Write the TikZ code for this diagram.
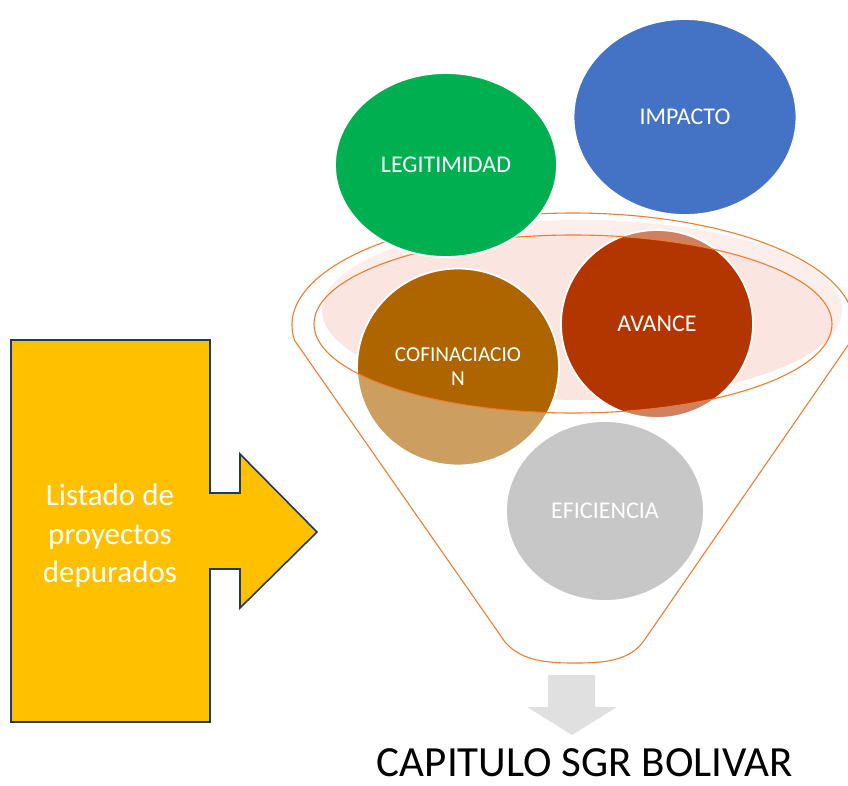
\documentclass[tikz,border=0pt]{standalone}
\usepackage{fontspec}
\setmainfont{Carlito}
\usepackage{tikz}
\usetikzlibrary{shapes.geometric}
\definecolor{FunnelLine}{HTML}{ED7D31}
\definecolor{RimFill}{HTML}{FBE5E0}
\definecolor{LegitGreen}{HTML}{00B050}
\definecolor{ImpactBlue}{HTML}{4472C4}
\definecolor{CofinBrown}{HTML}{AE6500}
\definecolor{AvanceRed}{HTML}{B33500}
\definecolor{EficGray}{HTML}{A6A6A6}
\definecolor{InputGold}{HTML}{FFC000}
\definecolor{InputEdge}{HTML}{1F3864}
\definecolor{OutShade}{HTML}{E0E0E0}
\newcommand{\FunnelOutline}{%
  (294.7,340.6) arc[start angle=172,end angle=368,x radius=281,y radius=112]
  -- (643,642) .. controls (628,662) and (600,663) .. (575,663)
  .. controls (550,663) and (522,662) .. (505,642) -- cycle}
\tikzset{
  figure/.style={x=1pt,y=-1pt},
  bubble/.style={ellipse,draw=white,line width=1.8pt,text=white,inner sep=0pt,
    align=center,font=\fontsize{24}{28}\selectfont},
  funnelline/.style={draw=FunnelLine,line width=1.1pt},
}

\begin{document}
\begin{tikzpicture}[figure]
  \useasboundingbox (0,0) rectangle (848,785);

  % rim of the funnel
  \fill[RimFill] (582,310) ellipse [x radius=260,y radius=90];

  % criteria inside the funnel
  \node[bubble,fill=CofinBrown,minimum width=202pt,minimum height=197pt,
    font=\fontsize{21.3}{24}\selectfont] (cofin) at (458,367) {COFINACIACIO\\N};
  \node[bubble,fill=AvanceRed,minimum width=192pt,minimum height=188pt] (avance) at (657,324) {AVANCE};
  \node[bubble,fill=EficGray,minimum width=198pt,minimum height=180pt] (efic) at (605,511) {EFICIENCIA};

  % funnel body, open at the top
  \fill[white,opacity=0.38,even odd rule] \FunnelOutline
    (573,324) ellipse [x radius=259,y radius=89];
  \draw[funnelline] \FunnelOutline;
  \draw[funnelline] (573,324) ellipse [x radius=259,y radius=89];

  % criteria above the funnel
  \node[bubble,fill=LegitGreen,minimum width=222pt,minimum height=184pt] (legit) at (446,165) {LEGITIMIDAD};
  \node[bubble,fill=ImpactBlue,minimum width=223pt,minimum height=196pt] (impacto) at (685,117) {IMPACTO};

  % input list
  \draw[draw=InputEdge,fill=InputGold,line width=1.6pt]
    (11,340) -- (210,340) -- (210,493) -- (240,493) -- (240,454) -- (317,532)
    -- (240,608) -- (240,569) -- (210,569) -- (210,722) -- (11,722) -- cycle;
  \node[text=white,align=center,font=\fontsize{31}{38.5}\selectfont] (listado) at (110,536)
    {Listado de\\proyectos\\depurados};

  % output
  \fill[OutShade] (548,675) -- (595,675) -- (595,707) -- (617,707) -- (572,735)
    -- (527,707) -- (548,707) -- cycle;
  \node[anchor=base,inner sep=0pt,font=\fontsize{43}{48}\selectfont] (capitulo) at (585,776) {CAPITULO SGR BOLIVAR};
\end{tikzpicture}
\end{document}
